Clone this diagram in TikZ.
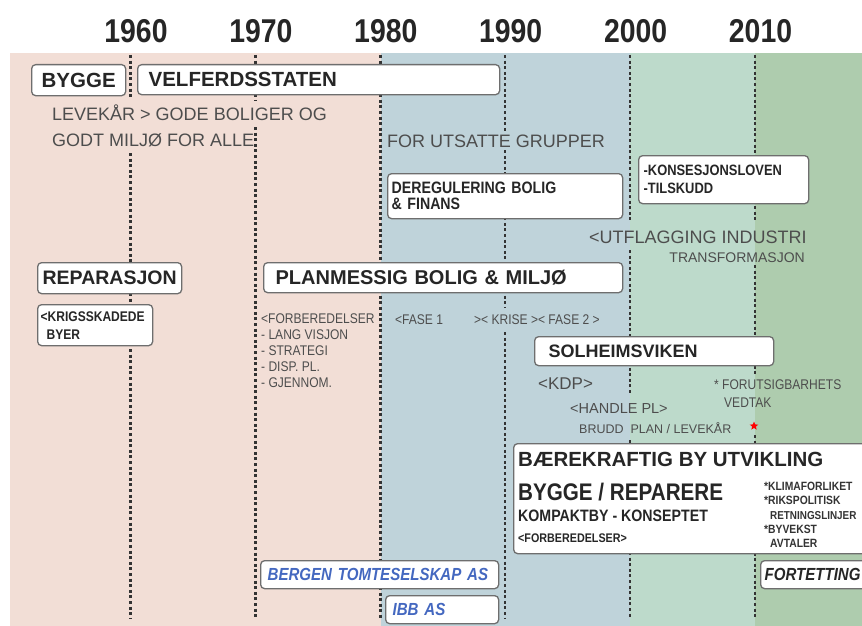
\documentclass[tikz,border=0pt]{standalone}
\usepackage{fontspec}
\setmainfont{Liberation Sans}
\newfontfamily\narrowsans{Liberation Sans}[FakeStretch=0.86]
\usetikzlibrary{shapes.geometric}

\definecolor{bandpink}{HTML}{F2DED6}
\definecolor{bandblue}{HTML}{BFD3DA}
\definecolor{bandlgreen}{HTML}{BDDACB}
\definecolor{bandgreen}{HTML}{AECCAE}
\definecolor{notegray}{HTML}{4D4D4D}
\definecolor{inkdark}{HTML}{262626}
\definecolor{boxline}{HTML}{6E6E6E}
\definecolor{firmblue}{HTML}{4468C0}

\begin{document}
\begin{tikzpicture}[x=1pt, y=-1pt,
    yearlbl/.style={anchor=base, inner sep=0pt, text=inkdark, font=\narrowsans\bfseries\fontsize{33}{36}\selectfont},
    timeline/.style={draw=black!80, line width=2.8pt, dash pattern=on 3pt off 2.6pt},
    tbox/.style={draw=boxline, line width=1.3pt, fill=white, rounded corners=4pt, anchor=north west, align=left, inner ysep=0pt, text=inkdark},
    head/.style={font=\bfseries\fontsize{20.5}{24}\selectfont},
    firm/.style={font=\narrowsans\bfseries\itshape\fontsize{17.5}{20}\selectfont, text=firmblue},
    note/.style={anchor=base west, inner sep=0pt, text=notegray},
    smallnote/.style={note, font=\narrowsans\fontsize{14}{16}\selectfont},
    inbox/.style={anchor=base west, inner sep=0pt, text=inkdark},
    listitem/.style={inbox, text=black!80, font=\narrowsans\bfseries\fontsize{12}{14}\selectfont}]
  \useasboundingbox (0,0) rectangle (862,626);
  \clip (0,0) rectangle (862,626);

  % periods
  \fill[bandpink] (10,53) rectangle (380.5,626);
  \fill[bandblue] (380.5,53) rectangle (630,626);
  \fill[bandlgreen] (630,53) rectangle (755,626);
  \fill[bandgreen] (755,53) rectangle (862,626);

  \foreach \yr [count=\i from 0] in {1960,1970,1980,1990,2000,2010}
    \node[yearlbl] (y\yr) at (136+124.9*\i, 43) {\yr};

  % decade lines
  \draw[timeline] (130.5,55) -- (130.5,97) (130.5,153) -- (130.5,618);
  \draw[timeline] (255.5,55) -- (255.5,100) (255.5,127) -- (255.5,618);
  \draw[timeline] (380.5,55) -- (380.5,618);
  \draw[timeline] (505,55) -- (505,133) (505,150) -- (505,308) (505,332) -- (505,618);
  \draw[timeline] (630,55) -- (630,220) (630,250) -- (630,393) (630,440) -- (630,618);
  \draw[timeline] (755,55) -- (755,222) (755,265) -- (755,376) (755,435) -- (755,618);

  % boxes
  \node[tbox, head, align=center, minimum height=31pt, text width=86pt, inner xsep=4pt] (bygge) at (31,64) {BYGGE};
  \node[tbox, head, minimum height=30pt, text width=340pt, inner xsep=11pt] (velferd) at (137,64) {VELFERDSSTATEN};
  \node[tbox, font=\narrowsans\bfseries\fontsize{16.5}{16}\selectfont, minimum height=45pt, text width=227pt, inner xsep=4pt] (dereg) at (387,173) {DEREGULERING BOLIG\\\& FINANS};
  \node[tbox, font=\narrowsans\bfseries\fontsize{15}{18}\selectfont, minimum height=48pt, text width=160pt, inner xsep=5pt] (konsesjon) at (638,155) {-KONSESJONSLOVEN\\-TILSKUDD};
  \node[tbox, font=\bfseries\fontsize{19.5}{22}\selectfont, minimum height=31pt, text width=134pt, inner xsep=5pt] (reparasjon) at (37,262) {REPARASJON};
  \node[tbox, font=\bfseries\fontsize{20}{22}\selectfont, minimum height=30pt, text width=335pt, inner xsep=12pt] (planmessig) at (263,262) {PLANMESSIG BOLIG \& MILJØ};
  \node[tbox, font=\narrowsans\bfseries\fontsize{14}{18}\selectfont, minimum height=41pt, text width=109pt, inner xsep=3pt] (krig) at (37,304) {<KRIGSSKADEDE\\\hspace*{6pt}BYER};
  \node[tbox, font=\bfseries\fontsize{18}{20}\selectfont, minimum height=29pt, text width=211pt, inner xsep=14pt] (solheim) at (534,336) {SOLHEIMSVIKEN};
  \node[tbox, minimum width=370pt, minimum height=110pt, inner sep=0pt] (baere) at (513,443) {};
  \node[tbox, firm, minimum height=28pt, text width=224pt, inner xsep=7pt] (bergen) at (260,560) {BERGEN TOMTESELSKAP AS};
  \node[tbox, firm, minimum height=28pt, text width=99pt, inner xsep=7pt] (ibb) at (385,595) {IBB AS};
  \node[tbox, firm, text=inkdark, minimum height=28pt, text width=112pt, inner xsep=4pt] (fortetting) at (760,560) {FORTETTING};

  % notes
  \node[note, font=\fontsize{18}{20}\selectfont] (levekar) at (52,120) {LEVEKÅR > GODE BOLIGER OG};
  \node[note, font=\fontsize{18}{20}\selectfont] (miljo) at (52,146.5) {GODT MILJØ FOR ALLE};
  \node[note, font=\fontsize{18}{20}\selectfont] (utsatte) at (387,147) {FOR UTSATTE GRUPPER};
  \node[note, font=\fontsize{18}{20}\selectfont] (utflagging) at (589,243) {<UTFLAGGING INDUSTRI};
  \node[note, anchor=base east, font=\fontsize{14}{16}\selectfont] (transform) at (805,262.7) {TRANSFORMASJON};

  \foreach \txt [count=\i from 0] in {<FORBEREDELSER, - LANG VISJON, - STRATEGI, - DISP. PL., - GJENNOM.}
    \node[smallnote] (forb\i) at (261, 323+16*\i) {\txt};
  \node[smallnote] (fase) at (395,324) {<FASE 1};
  \node[smallnote] (krise) at (474,324) {>< KRISE >< FASE 2 >};

  \node[note, font=\fontsize{17}{19}\selectfont] (kdp) at (538,389) {<KDP>};
  \node[note, font=\fontsize{14.5}{16}\selectfont] (handle) at (570,413) {<HANDLE PL>};
  \node[note, font=\fontsize{12.5}{14}\selectfont] (brudd) at (579,433) {BRUDD\ \ PLAN / LEVEKÅR};
  \node[smallnote] (forutsig) at (714,389) {* FORUTSIGBARHETS};
  \node[smallnote] (vedtak) at (724,407) {VEDTAK};
  \node[star, star points=5, star point ratio=2.3, fill=red, inner sep=0pt, minimum size=9pt] (redstar) at (754,426) {};

  % inside the last box
  \node[inbox, font=\bfseries\fontsize{20.5}{24}\selectfont] (baeretitle) at (518,466) {BÆREKRAFTIG BY UTVIKLING};
  \node[inbox, font=\narrowsans\bfseries\fontsize{24}{26}\selectfont] (reparere) at (518,500.5) {BYGGE / REPARERE};
  \node[inbox, font=\narrowsans\bfseries\fontsize{16.5}{18}\selectfont] (kompakt) at (518,521) {KOMPAKTBY - KONSEPTET};
  \node[inbox, font=\narrowsans\bfseries\fontsize{12.5}{14}\selectfont] (forbsmall) at (518,542) {<FORBEREDELSER>};
  \node[listitem] (klima) at (764,490) {*KLIMAFORLIKET};
  \node[listitem] (riks) at (764,504.5) {*RIKSPOLITISK};
  \node[listitem, font=\narrowsans\bfseries\fontsize{11.5}{14}\selectfont] (retning) at (770,519) {RETNINGSLINJER};
  \node[listitem] (byvekst) at (764,533) {*BYVEKST};
  \node[listitem] (avtaler) at (770,547) {AVTALER};
\end{tikzpicture}
\end{document}
